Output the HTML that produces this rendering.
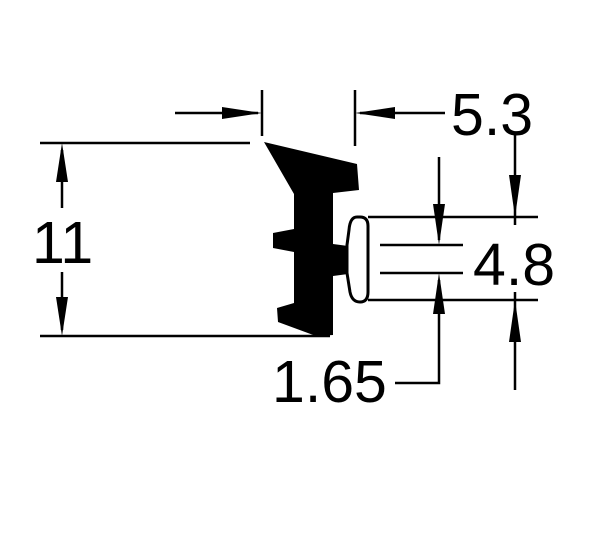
<!DOCTYPE html>
<html><head><style>body{margin:0;background:#fff}svg{display:block}</style></head><body>
<svg width="600" height="550" viewBox="0 0 600 550" xmlns="http://www.w3.org/2000/svg">
<g stroke="#000" stroke-width="2.5" fill="none">
<line x1="40" y1="143" x2="250" y2="143"/>
<line x1="40" y1="336" x2="330" y2="336"/>
<line x1="62" y1="150" x2="62" y2="208"/>
<line x1="62" y1="272" x2="62" y2="330"/>
<line x1="262" y1="90" x2="262" y2="136"/>
<line x1="355" y1="90" x2="355" y2="146"/>
<line x1="175" y1="113" x2="258" y2="113"/>
<line x1="360" y1="113" x2="445" y2="113"/>
<line x1="368" y1="217" x2="538" y2="217"/>
<line x1="368" y1="300" x2="538" y2="300"/>
<line x1="380" y1="245" x2="463" y2="245"/>
<line x1="380" y1="273" x2="463" y2="273"/>
<line x1="439" y1="157" x2="439" y2="240"/>
<polyline points="395,383 439,383 439,280"/>
<line x1="515" y1="135" x2="515" y2="225"/>
<line x1="515" y1="292" x2="515" y2="390"/>
<path d="M357,217 Q350,217 349,230 L347,245 L347,273 L350,292 Q352,302 360,302 Q368,302 368,292 L368,226 Q368,217 360,217 Z" stroke-width="3"/>
</g>
<g fill="#000">
<polygon points="62,143 56,182 68,182"/>
<polygon points="62,336 56,297 68,297"/>
<polygon points="262,113 222,107 222,119"/>
<polygon points="355,113 395,107 395,119"/>
<polygon points="439,245 433,204 445,204"/>
<polygon points="439,273 433,314 445,314"/>
<polygon points="515,217 509,175 521,175"/>
<polygon points="515,300 509,342 521,342"/>
<path d="M264,142 L357,164 L359,190 L333,193 L333,244 L348,246 L348,274 L333,276 L333,335 L316,336 L278,322 L277,308 L294,303 L294,252 L273,248 L273,233 L294,229 L294,194 Z"/>
</g>
<g font-family="Liberation Sans, sans-serif" font-size="59" fill="#000">
<text x="32" y="263">11</text>
<text x="451" y="135">5.3</text>
<text x="473" y="285">4.8</text>
<text x="272" y="402">1.65</text>
</g>
</svg>
</body></html>
